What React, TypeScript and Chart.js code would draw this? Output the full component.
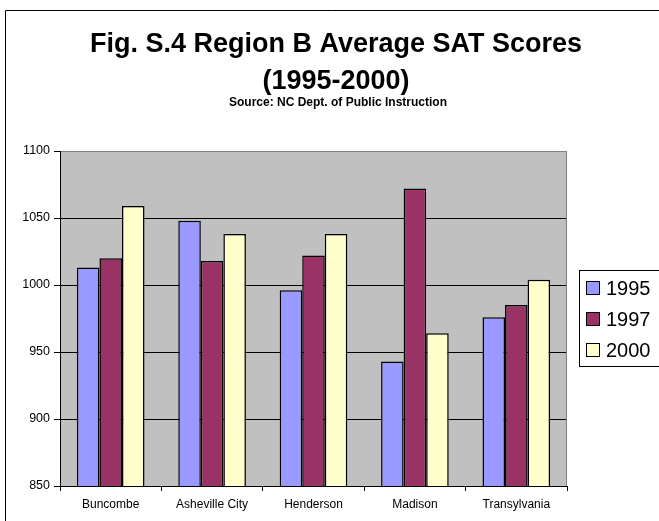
import React, { useEffect, useRef } from "react";
import { Chart, registerables } from "chart.js";

Chart.register(...registerables);

const categories = ["Buncombe", "Asheville City", "Henderson", "Madison", "Transylvania"];
const seriesLabels = ["1995", "1997", "2000"];
const scores1995 = [1013, 1048, 996, 943, 976];
const scores1997 = [1020, 1018, 1022, 1072, 985];
const scores2000 = [1059, 1038, 1038, 964, 1004];
const seriesColors = ["#9999FF", "#993366", "#FFFFCC"];
const yMin = 850;
const yMax = 1100;
const yStep = 50;
const titleLines = ["Fig. S.4 Region B Average SAT Scores", "(1995-2000)"];
const sourceLine = "Source: NC Dept. of Public Instruction";

const FONT = '"Liberation Sans", Arial, sans-serif';

const decorPlugin = {
  id: "decor",
  beforeDraw(chart: any) {
    const { ctx, chartArea: a, width, height } = chart;
    ctx.save();
    ctx.fillStyle = "#FFFFFF";
    ctx.fillRect(0, 0, width, height);
    ctx.fillStyle = "#C0C0C0";
    ctx.fillRect(a.left, a.top, a.right - a.left, a.bottom - a.top);
    ctx.restore();
  },
  beforeDatasetsDraw(chart: any) {
    const { ctx, chartArea: a } = chart;
    ctx.save();
    ctx.strokeStyle = "#808080";
    ctx.lineWidth = 1;
    ctx.beginPath();
    ctx.moveTo(Math.round(a.right) - 0.5, a.top);
    ctx.lineTo(Math.round(a.right) - 0.5, a.bottom);
    ctx.stroke();
    ctx.restore();
  },
  afterDraw(chart: any) {
    const { ctx, width, height } = chart;
    ctx.save();
    // outer chart border
    ctx.strokeStyle = "#000000";
    ctx.lineWidth = 1;
    ctx.beginPath();
    ctx.moveTo(5.5, height + 2);
    ctx.lineTo(5.5, 10.5);
    ctx.lineTo(width + 2, 10.5);
    ctx.stroke();

    // title
    ctx.fillStyle = "#000000";
    ctx.textAlign = "center";
    ctx.textBaseline = "alphabetic";
    ctx.font = "bold 27px " + FONT;
    ctx.fillText(titleLines[0], 336, 52);
    ctx.fillText(titleLines[1], 336, 89);
    ctx.font = "bold 12px " + FONT;
    ctx.fillText(sourceLine, 338, 106);

    // legend
    const lx = 579.5, ly = 270.5, lh = 96;
    ctx.fillStyle = "#FFFFFF";
    ctx.fillRect(lx, ly, 120, lh);
    ctx.strokeStyle = "#000000";
    ctx.strokeRect(lx, ly, 120, lh);
    ctx.font = "20px " + FONT;
    ctx.textAlign = "left";
    ctx.textBaseline = "middle";
    chart.data.datasets.forEach((ds: any, i: number) => {
      const cy = 288 + i * 31;
      ctx.fillStyle = ds.backgroundColor;
      ctx.fillRect(586.5, cy - 6.5, 13, 13);
      ctx.strokeStyle = "#000000";
      ctx.strokeRect(586.5, cy - 6.5, 13, 13);
      ctx.fillStyle = "#000000";
      ctx.fillText(ds.label, 606, cy + 1);
    });
    ctx.restore();
  },
};

export default function App() {
  const ref = useRef<HTMLCanvasElement | null>(null);
  useEffect(() => {
    if (!ref.current) return;
    const values = [scores1995, scores1997, scores2000];
    const chart = new Chart(ref.current, {
      type: "bar",
      data: {
        labels: categories,
        datasets: seriesLabels.map((label, i) => ({
          label,
          data: values[i],
          backgroundColor: seriesColors[i],
          borderColor: "#000000",
          borderWidth: 1.5,
          borderSkipped: false,
          categoryPercentage: 0.667,
          barPercentage: 1,
        })),
      },
      options: {
        responsive: false,
        animation: false,
        devicePixelRatio: 1,
        layout: { padding: { top: 151, left: 0, right: 92, bottom: 0 } },
        plugins: {
          legend: { display: false },
          title: { display: false },
          tooltip: { enabled: false },
        },
        scales: {
          x: {
            afterFit: (s: any) => {
              s.height = 35;
            },
            grid: {
              offset: true,
              drawOnChartArea: false,
              drawTicks: true,
              tickLength: 5,
              tickColor: "#000000",
              color: "#000000",
            },
            border: { display: true, color: "#000000", width: 1 },
            ticks: {
              color: "#000000",
              font: { family: FONT, size: 12 },
              padding: 6,
              maxRotation: 0,
            },
          },
          y: {
            min: yMin,
            max: yMax,
            afterFit: (s: any) => {
              s.width = 60;
            },
            grid: {
              color: (c: any) => (c.tick && c.tick.value === yMax ? "#808080" : "#000000"),
              tickColor: "#000000",
              tickLength: 6,
              lineWidth: 1,
            },
            border: { display: true, color: "#000000", width: 1 },
            ticks: {
              stepSize: yStep,
              color: "#000000",
              font: { family: FONT, size: 12.5 },
              padding: 4,
              callback: (v: any) => String(v),
            },
          },
        },
      },
      plugins: [decorPlugin],
    });
    return () => chart.destroy();
  }, []);
  return (
    <div style={{ position: "fixed", left: 0, top: 0, width: 659, height: 521 }}>
      <canvas ref={ref} width={659} height={521} style={{ width: 659, height: 521, display: "block" }} />
    </div>
  );
}
